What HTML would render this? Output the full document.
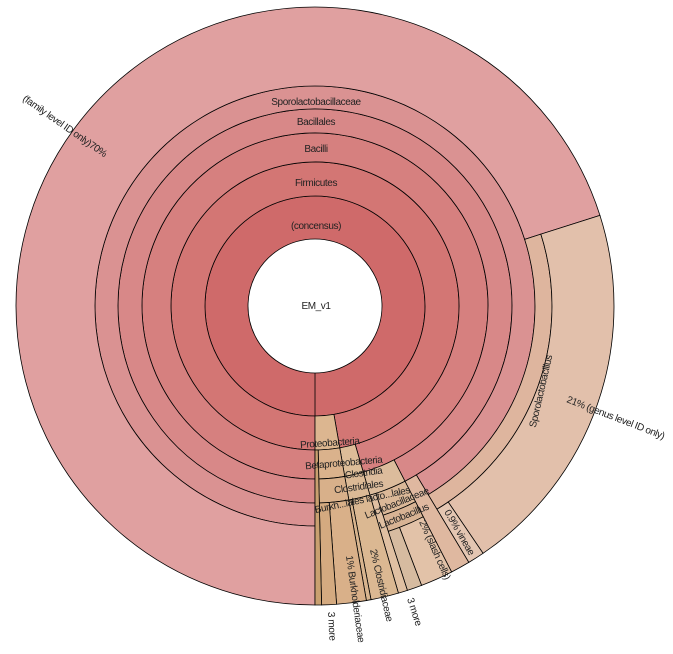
<!DOCTYPE html>
<html><head><meta charset="utf-8">
<style>
html,body{margin:0;padding:0;background:#fff;}
svg{display:block;}
text{font-family:"Liberation Sans",sans-serif;font-size:10px;letter-spacing:-0.4px;fill:#222;}
</style></head>
<body>
<svg id="chart" width="673" height="654" viewBox="0 0 673 654" xmlns="http://www.w3.org/2000/svg">
<g id="wedges"></g>
<g id="labels">
<text x="316" y="309" text-anchor="middle" font-size="11">EM_v1</text>
<text x="316" y="229" text-anchor="middle">(concensus)</text>
<text x="316" y="186" text-anchor="middle">Firmicutes</text>
<text x="316" y="152" text-anchor="middle">Bacilli</text>
<text x="316" y="125" text-anchor="middle">Bacillales</text>
<text x="316" y="105" text-anchor="middle">Sporolactobacillaceae</text>
<text x="22" y="100" transform="rotate(35 22 100)">(family level ID only)70%</text>
<text x="566" y="402" transform="rotate(21 566 402)">21% (genus level ID only)</text>
<text x="544" y="392" text-anchor="middle" transform="rotate(-77 544 392)">Sporolactobacillus</text>
<text x="330" y="446" text-anchor="middle" transform="rotate(-4 330 446)">Proteobacteria</text>
<text x="344" y="466" text-anchor="middle" transform="rotate(-5 344 466)">Betaproteobacteria</text>
<text x="364" y="476" text-anchor="middle" transform="rotate(-8 364 476)">Clostridia</text>
<text x="359" y="490" text-anchor="middle" transform="rotate(-8 359 490)">Clostridiales</text>
<text x="363" y="503" text-anchor="middle" transform="rotate(-12 363 503)">Burkh...lales lacto...lales</text>
<text x="398" y="506" text-anchor="middle" transform="rotate(-22 398 506)">Lactobacillaceae</text>
<text x="405" y="519" text-anchor="middle" transform="rotate(-22 405 519)">Lactobacillus</text>
<text x="444" y="512" transform="rotate(60 444 512)">0.9% vineae</text>
<text x="419" y="522" transform="rotate(66 419 522)">2% (slash cells)</text>
<text x="407" y="599" transform="rotate(72 407 599)">3 more</text>
<text x="370" y="550" transform="rotate(77 370 550)">2% Clostridiaceae</text>
<text x="346" y="556" transform="rotate(82 346 556)">1% Burkholderiaceae</text>
<text x="328" y="612" transform="rotate(87 328 612)">3 more</text>
</g>
</svg>
<script>
// hierarchy data: node names, parent indices, leaf values (%)
const names = ["(concensus)","Firmicutes","Bacilli","Bacillales","Sporolactobacillaceae","(family level ID only)","Sporolactobacillus","(genus level ID only)","vineae","bacillales-other","Lactobacillales","Lactobacillaceae","Lactobacillus","(slash cells)","lacto-3-more","lactobacillales-other","Clostridia","Clostridiales","Clostridiaceae","clostridiales-other","Proteobacteria","Betaproteobacteria","Burkholderiales","Burkholderiaceae","burkholderiales-other","proteo-3-more"];
const parents = [-1,0,1,2,3,4,4,6,6,3,2,10,11,12,12,10,1,16,17,17,0,20,21,22,22,20];
const leafValues = [0,0,0,0,0,70.1,0,20.4,0.9,1.05,0,0,0,1.75,0.8,0.5,0,0,1.5,0.25,0,0,0,1.6,0.8,0.35];

const fills = {
 "(concensus)":"#cf6a6a","Firmicutes":"#d37674","Bacilli":"#d6807f","Bacillales":"#d88888",
 "Sporolactobacillaceae":"#da9292","(family level ID only)":"#e0a0a0","Sporolactobacillus":"#deb59e",
 "(genus level ID only)":"#e2c0ab","vineae":"#e4c6b2","bacillales-other":"#dfb8a0",
 "Lactobacillales":"#dcbc9c","Lactobacillaceae":"#dbb898","Lactobacillus":"#d8b394","(slash cells)":"#e2c2a8",
 "lacto-3-more":"#d6bba0","lactobacillales-other":"#e0c0a2","Clostridia":"#ddbd98","Clostridiales":"#dcba96",
 "Clostridiaceae":"#dbb892","clostridiales-other":"#d8b48e","Proteobacteria":"#dcb690","Betaproteobacteria":"#dab28c",
 "Burkholderiales":"#d8b08a","Burkholderiaceae":"#d9b089","burkholderiales-other":"#d4aa80","proteo-3-more":"#c9a070"
};
const radii=[67,110,144,173,197,220,237,299];
const cx=315, cy=306;
const n=names.length;
const kids=names.map(()=>[]);
parents.forEach((p,i)=>{if(p>=0)kids[p].push(i);});
const val=new Array(n).fill(0);
function sum(i){val[i]=kids[i].length?kids[i].reduce((s,k)=>s+sum(k),0):leafValues[i];return val[i];}
sum(0);
const depth=new Array(n).fill(0);
for(let i=1;i<n;i++)depth[i]=depth[parents[i]]+1;
const start=new Array(n).fill(0),span=new Array(n).fill(0);
function layout(i,a0,a1){start[i]=a0;span[i]=a1-a0;let a=a0;
 kids[i].forEach(k=>{const s=(a1-a0)*val[k]/val[i];layout(k,a,a+s);a+=s;});}
layout(0,180,540);
function pt(r,a){const t=a*Math.PI/180;return [cx+r*Math.sin(t),cy-r*Math.cos(t)];}
function arcPath(r0,r1,a0,a1){
 if(a1-a0>=359.99){a1=a0+359.99;}
 const large=(a1-a0)>180?1:0;
 const p1=pt(r1,a0),p2=pt(r1,a1),p3=pt(r0,a1),p4=pt(r0,a0);
 return `M${p1[0]},${p1[1]} A${r1},${r1} 0 ${large} 1 ${p2[0]},${p2[1]} L${p3[0]},${p3[1]} A${r0},${r0} 0 ${large} 0 ${p4[0]},${p4[1]} Z`;
}
const g=document.getElementById('wedges');
const NS="http://www.w3.org/2000/svg";
for(let i=0;i<n;i++){
 const r0=radii[depth[i]];
 const r1=kids[i].length?radii[depth[i]+1]:radii[radii.length-1];
 const p=document.createElementNS(NS,'path');
 p.setAttribute('d',arcPath(r0,r1,start[i],start[i]+span[i]));
 p.setAttribute('fill',fills[names[i]]||'#dcb898');
 p.setAttribute('stroke','#000');
 p.setAttribute('stroke-width','0.8');
 
 
 g.appendChild(p);
}
</script>
</body></html>
